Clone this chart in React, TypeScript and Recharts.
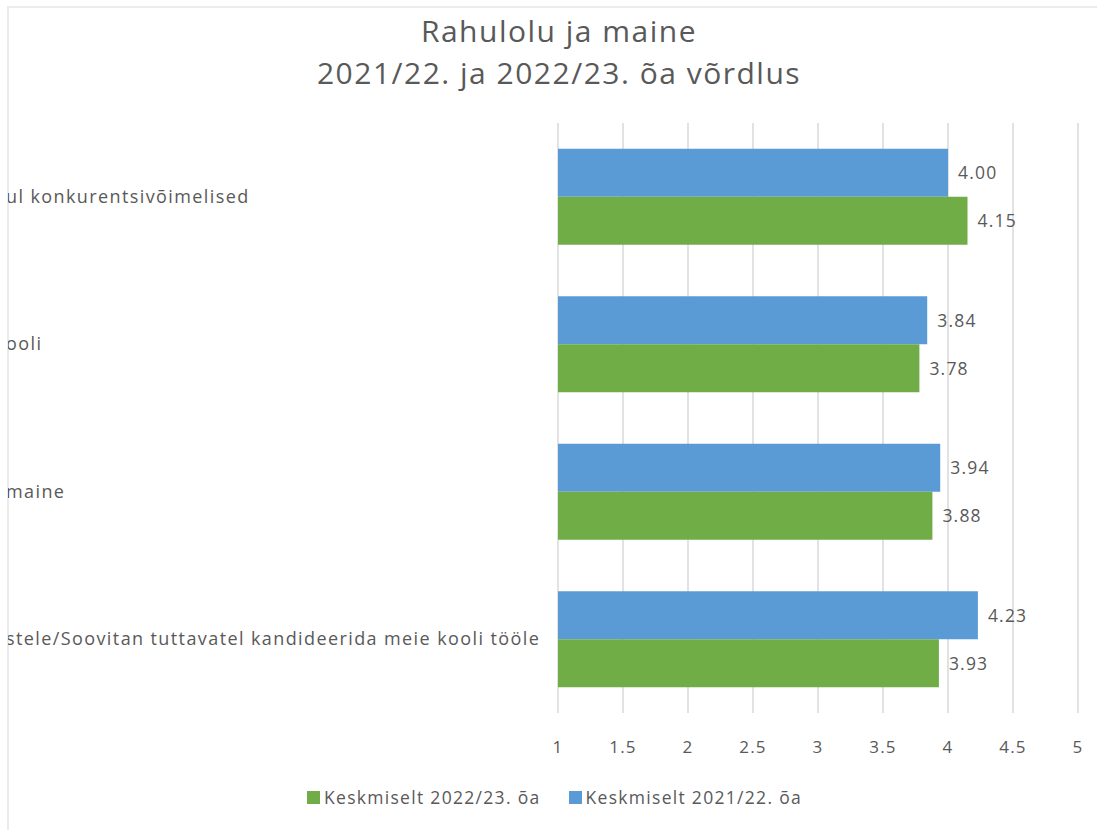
import React from 'react';
import { BarChart, Bar, XAxis, YAxis, CartesianGrid, LabelList, Legend } from 'recharts';

const categories = [
  'ul konkurentsivõimelised',
  'ooli',
  'maine',
  'stele/Soovitan tuttavatel kandideerida meie kooli tööle',
];
const avg2022_23 = [4.15, 3.78, 3.88, 3.93];
const avg2021_22 = [4.0, 3.84, 3.94, 4.23];
const xTicks = [1, 1.5, 2, 2.5, 3, 3.5, 4, 4.5, 5];

const SERIES_NEW = 'Keskmiselt 2022/23. õa';
const SERIES_OLD = 'Keskmiselt 2021/22. õa';

const GREEN = '#70ad47';
const BLUE = '#5b9bd5';
const TEXT = '#595959';
const FONT = '"Open Sans", Lato, sans-serif';

const data = categories.map((name, i) => ({
  name,
  newAvg: avg2022_23[i],
  oldAvg: avg2021_22[i],
}));

const CategoryTick = (props: any) => {
  const { y, payload } = props;
  return (
    <text
      x={-2}
      y={y}
      dy={6}
      textAnchor="start"
      fill={TEXT}
      fontSize={18}
      letterSpacing={1.4}
      fontFamily={FONT}
    >
      {payload.value}
    </text>
  );
};

const LegendContent = () => (
  <div
    style={{
      display: 'flex',
      justifyContent: 'center',
      gap: 28,
      fontFamily: FONT,
      fontSize: 17.5,
      letterSpacing: 1.3,
      color: TEXT,
      paddingLeft: 4,
    }}
  >
    {[
      { label: SERIES_NEW, color: GREEN },
      { label: SERIES_OLD, color: BLUE },
    ].map((item) => (
      <div key={item.label} style={{ display: 'flex', alignItems: 'center' }}>
        <span style={{ display: 'inline-block', width: 13, height: 13, background: item.color, marginRight: 4 }} />
        {item.label}
      </div>
    ))}
  </div>
);

const valueLabelStyle = { fill: TEXT, fontSize: 17.5, fontFamily: FONT, letterSpacing: 1.2 };

export default function App() {
  return (
    <div style={{ position: 'absolute', left: 0, top: 0, width: 1097, height: 830, background: '#fff' }}>
      <div
        style={{
          position: 'absolute',
          left: 7,
          top: 6,
          width: 1090,
          height: 824,
          borderLeft: '2px solid #ececec',
          borderTop: '2px solid #ececec',
          boxSizing: 'border-box',
        }}
      />
      <div
        style={{
          position: 'absolute',
          left: 9,
          top: 0,
          width: 1100,
          textAlign: 'center',
          fontFamily: FONT,
          fontSize: 30,
          letterSpacing: 1.5,
          lineHeight: '42px',
          color: TEXT,
          paddingTop: 10,
        }}
      >
        <div>Rahulolu ja maine</div>
        <div>2021/22. ja 2022/23. õa võrdlus</div>
      </div>
      <div style={{ position: 'absolute', left: 8, top: 0, width: 1089, height: 830, overflow: 'hidden' }}>
        <BarChart
          width={1089}
          height={830}
          data={data}
          layout="vertical"
          barCategoryGap="17.5%"
          barGap={0}
          margin={{ top: 123, right: 19, left: 0, bottom: 51 }}
        >
          <CartesianGrid horizontal={false} stroke="#e2e2e2" strokeWidth={2} />
          <XAxis
            type="number"
            domain={[1, 5]}
            ticks={xTicks}
            axisLine={false}
            tickLine={false}
            tickMargin={22}
            height={40}
            tick={{ fill: TEXT, fontSize: 17, fontFamily: FONT, letterSpacing: 1.2 }}
          />
          <YAxis
            type="category"
            dataKey="name"
            width={550}
            axisLine={false}
            tickLine={false}
            tick={<CategoryTick />}
          />
          <Bar dataKey="oldAvg" name={SERIES_OLD} fill={BLUE} isAnimationActive={false}>
            <LabelList
              dataKey="oldAvg"
              position="right"
              offset={10}
              formatter={(v: any) => Number(v).toFixed(2)}
              style={valueLabelStyle}
            />
          </Bar>
          <Bar dataKey="newAvg" name={SERIES_NEW} fill={GREEN} isAnimationActive={false}>
            <LabelList
              dataKey="newAvg"
              position="right"
              offset={10}
              formatter={(v: any) => Number(v).toFixed(2)}
              style={valueLabelStyle}
            />
          </Bar>
          <Legend
            content={<LegendContent />}
            wrapperStyle={{ position: 'absolute', left: 0, top: 785, width: 1089, height: 26 }}
          />
        </BarChart>
      </div>
    </div>
  );
}
